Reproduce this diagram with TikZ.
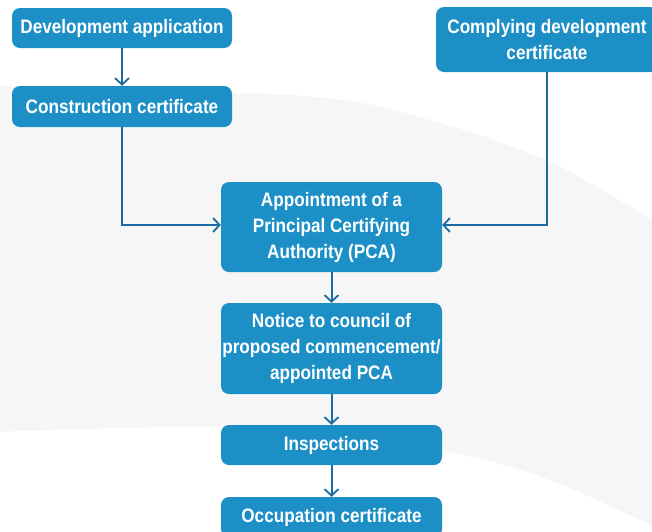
\documentclass[tikz,border=0pt]{standalone}
\usepackage{fontspec}
\setmainfont[FakeStretch=0.88]{Liberation Sans}
\usetikzlibrary{arrows.meta}
\definecolor{boxblue}{HTML}{1B8FC6}
\definecolor{arrowblue}{HTML}{1A6BA0}
\definecolor{bggray}{HTML}{F6F6F6}
\tikzset{
  stepbox/.style={fill=boxblue, draw=none, rounded corners=8pt, text=white,
    font=\fontsize{19.5}{26}\selectfont\bfseries, align=center, inner sep=0pt},
  flow/.style={draw=arrowblue, line width=2pt, -{Straight Barb[length=6.5pt,width=14pt,line width=1.8pt]}}
}
\begin{document}
\begin{tikzpicture}[x=1pt,y=-1pt]
\useasboundingbox (0,0) rectangle (652,531);
\clip (0,0) rectangle (652,531);
% background blob
\fill[bggray] plot[smooth, tension=0.6] coordinates {(-5,86) (150,90) (326,98) (430,120) (550,162) (660,225)}
  -- (660,530) -- plot[smooth, tension=0.6] coordinates {(660,530) (550,480) (440,450) (300,432) (180,427) (-5,432)} -- cycle;
% boxes
\node[stepbox, minimum width=220pt, minimum height=40pt] (dev) at (122,28) {Development application};
\node[stepbox, minimum width=220pt, minimum height=41pt] (cc) at (122,106.5) {Construction certificate};
\node[stepbox, minimum width=222pt, minimum height=65pt] (cdc) at (547,39.5) {Complying development\\certificate};
\node[stepbox, minimum width=221pt, minimum height=90pt] (apt) at (331.5,227) {Appointment of a\\Principal Certifying\\Authority (PCA)};
\node[stepbox, minimum width=221pt, minimum height=91pt] (notice) at (331.5,348.5) {Notice to council of\\proposed commencement/\\appointed PCA};
\node[stepbox, minimum width=221pt, minimum height=40pt] (insp) at (331.5,445) {Inspections};
\node[stepbox, minimum width=221pt, minimum height=40pt] (occ) at (331.5,517) {Occupation certificate};
% connectors
\draw[flow] (dev.south) -- (cc.north);
\draw[flow] (cc.south) |- ([yshift=2pt]apt.west);
\draw[flow] (cdc.south) |- ([yshift=2pt]apt.east);
\draw[flow] (apt.south) -- (notice.north);
\draw[flow] (notice.south) -- (insp.north);
\draw[flow] (insp.south) -- (occ.north);
\end{tikzpicture}
\end{document}
